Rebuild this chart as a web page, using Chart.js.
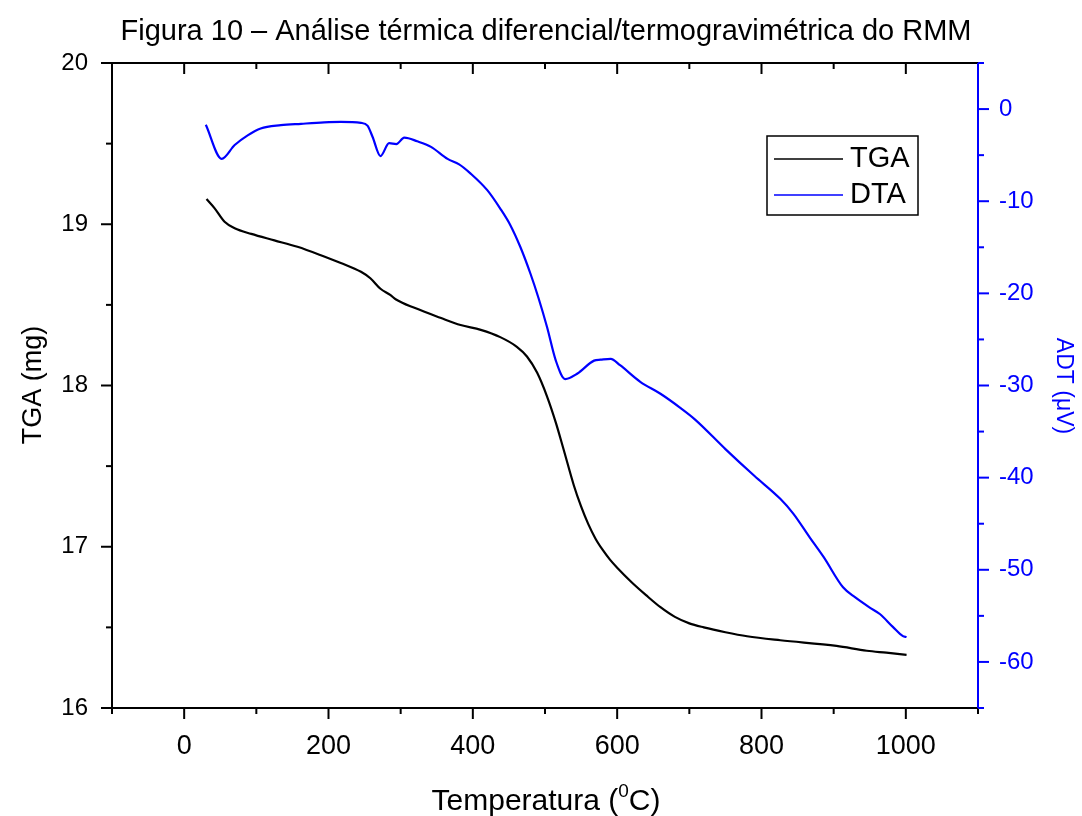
<!DOCTYPE html>
<html>
<head>
<meta charset="utf-8">
<script src="https://cdn.jsdelivr.net/npm/chart.js@4.4.1/dist/chart.umd.min.js"></script>
<style>
  html, body { margin: 0; padding: 0; background: #fff; }
  #wrap { width: 1082px; height: 816px; }
</style>
</head>
<body>
<div id="wrap"><canvas id="chart" width="1082" height="816"></canvas></div>
<script>
// ── Dados ──

const tempTGA = [31, 42, 56, 70, 93, 125, 157, 194, 217, 245, 258, 272, 286, 293, 320, 355, 383, 411, 438, 461, 475, 489, 503, 515, 526, 540, 550, 560, 570, 580, 590, 600, 620, 640, 660, 680, 700, 720, 750, 780, 826, 904, 946, 973, 1001];
const massTGA = [19.156, 19.1, 19.015, 18.975, 18.94, 18.9, 18.86, 18.8, 18.76, 18.705, 18.665, 18.6, 18.56, 18.535, 18.48, 18.42, 18.375, 18.345, 18.3, 18.24, 18.18, 18.08, 17.93, 17.77, 17.6, 17.38, 17.25, 17.14, 17.05, 16.98, 16.92, 16.87, 16.78, 16.7, 16.625, 16.565, 16.525, 16.5, 16.47, 16.445, 16.42, 16.385, 16.355, 16.343, 16.33];

const tempDTA = [30, 52, 70, 88, 106, 134, 162, 194, 217, 245, 254, 261, 272, 284, 294, 305, 323, 342, 365, 381, 397, 420, 438, 452, 466, 480, 491, 503, 515, 528, 545, 568, 577, 591, 604, 632, 660, 687, 708, 750, 790, 826, 844, 867, 886, 913, 930, 950, 964, 982, 996, 1001];
const signalDTA = [-1.7, -5.4, -3.9, -2.85, -2.1, -1.75, -1.6, -1.45, -1.4, -1.5, -1.8, -3.0, -5.1, -3.7, -3.8, -3.1, -3.5, -4.1, -5.4, -6.0, -7.0, -8.8, -10.8, -12.6, -15.0, -17.9, -20.5, -23.7, -27.3, -29.3, -28.7, -27.3, -27.2, -27.1, -27.8, -29.6, -30.9, -32.4, -33.7, -36.9, -39.8, -42.3, -43.9, -46.5, -48.6, -51.9, -53.0, -54.1, -54.8, -56.2, -57.2, -57.3];

const xTicks = [0, 200, 400, 600, 800, 1000];
const xMinor = [-100, 100, 300, 500, 700, 900, 1100];
const tgaTicks = [16, 17, 18, 19, 20];
const tgaMinor = [16.5, 17.5, 18.5, 19.5];
const dtaTicks = [0, -10, -20, -30, -40, -50, -60];
const dtaMinor = [5, -5, -15, -25, -35, -45, -55, -65];

const BLUE = "#0000ff";
const FONT = "'Liberation Sans', Arial, sans-serif";

// ── Apufunktiot ──

function toPoints(xs, ys) {
  return xs.map((x, i) => ({ x, y: ys[i] }));
}

function fixTicks(list) {
  return (scale) => {
    scale.ticks = list.map((v) => ({ value: v }));
  };
}

function plainLabel(v) {
  return String(v);
}

function drawTicks(ctx, scale, values, len, side) {
  const area = scale.chart.chartArea;
  values.forEach((v) => {
    const p = scale.getPixelForValue(v);
    ctx.beginPath();
    if (side === "bottom") { ctx.moveTo(p, area.bottom); ctx.lineTo(p, area.bottom + len); }
    if (side === "top") { ctx.moveTo(p, area.top); ctx.lineTo(p, area.top + len); }
    if (side === "left") { ctx.moveTo(area.left, p); ctx.lineTo(area.left - len, p); }
    if (side === "right") { ctx.moveTo(area.right, p); ctx.lineTo(area.right + len, p); }
    ctx.stroke();
  });
}

const originAxes = {
  id: "originAxes",
  afterDraw(chart) {
    const { ctx, chartArea: a, scales } = chart;
    const x = scales.x, yl = scales.yTGA, yr = scales.yDTA;
    ctx.save();
    ctx.lineWidth = 2;
    ctx.lineCap = "square";

    // moldura preta
    ctx.strokeStyle = "#000";
    ctx.beginPath();
    ctx.moveTo(a.right, a.top);
    ctx.lineTo(a.left, a.top);
    ctx.lineTo(a.left, a.bottom);
    ctx.lineTo(a.right, a.bottom);
    ctx.stroke();
    ctx.lineCap = "butt";
    drawTicks(ctx, x, xTicks, 11, "bottom");
    drawTicks(ctx, x, xMinor, 6, "bottom");
    drawTicks(ctx, x, xTicks, 11, "top");
    drawTicks(ctx, x, xMinor, 6, "top");
    drawTicks(ctx, yl, tgaTicks, 11, "left");
    drawTicks(ctx, yl, tgaMinor, 6, "left");

    // eixo direito azul
    ctx.strokeStyle = BLUE;
    ctx.beginPath();
    ctx.moveTo(a.right, a.top);
    ctx.lineTo(a.right, a.bottom);
    ctx.stroke();
    drawTicks(ctx, yr, dtaTicks, 11, "right");
    drawTicks(ctx, yr, dtaMinor, 6, "right");

    // títulos
    ctx.fillStyle = "#000";
    ctx.textAlign = "center";
    ctx.textBaseline = "middle";
    ctx.font = "29px " + FONT;
    ctx.fillText("Figura 10 – Análise térmica diferencial/termogravimétrica do RMM", 546, 32);

    ctx.font = "27px " + FONT;
    ctx.save();
    ctx.translate(34, 385);
    ctx.rotate(-Math.PI / 2);
    ctx.fillText("TGA (mg)", 0, 0);
    ctx.restore();

    ctx.save();
    ctx.font = "23px " + FONT;
    ctx.fillStyle = BLUE;
    ctx.translate(1063, 386);
    ctx.rotate(Math.PI / 2);
    ctx.fillText("ADT (μV)", 0, 0);
    ctx.restore();

    // Temperatura (⁰C) com expoente
    const pre = "Temperatura (", sup = "0", post = "C)";
    ctx.font = "30px " + FONT;
    const w1 = ctx.measureText(pre).width;
    const w3 = ctx.measureText(post).width;
    ctx.font = "19px " + FONT;
    const w2 = ctx.measureText(sup).width;
    let tx = 546 - (w1 + w2 + w3) / 2;
    const ty = 810;
    ctx.textAlign = "left";
    ctx.textBaseline = "alphabetic";
    ctx.font = "30px " + FONT;
    ctx.fillText(pre, tx, ty);
    tx += w1;
    ctx.font = "19px " + FONT;
    ctx.fillText(sup, tx, ty - 13);
    tx += w2;
    ctx.font = "30px " + FONT;
    ctx.fillText(post, tx, ty);

    // legenda
    ctx.strokeStyle = "#000";
    ctx.lineWidth = 1.5;
    ctx.strokeRect(767, 136, 151, 79);
    ctx.font = "29px " + FONT;
    ctx.textBaseline = "middle";
    chart.data.datasets.forEach((ds, i) => {
      const ly = 159 + i * 36;
      ctx.strokeStyle = ds.borderColor;
      ctx.lineWidth = 1.5;
      ctx.beginPath();
      ctx.moveTo(774, ly);
      ctx.lineTo(843, ly);
      ctx.stroke();
      ctx.fillStyle = "#000";
      ctx.fillText(ds.label, 850, ly);
    });
    ctx.restore();
  },
};

// ── Kaavio ──

new Chart(document.getElementById("chart"), {
  type: "line",
  data: {
    datasets: [
      {
        label: "TGA",
        data: toPoints(tempTGA, massTGA),
        yAxisID: "yTGA",
        borderColor: "#000",
        borderWidth: 2.2,
        pointRadius: 0,
        cubicInterpolationMode: "monotone",
        fill: false,
      },
      {
        label: "DTA",
        data: toPoints(tempDTA, signalDTA),
        yAxisID: "yDTA",
        borderColor: BLUE,
        borderWidth: 2.2,
        pointRadius: 0,
        cubicInterpolationMode: "monotone",
        fill: false,
      },
    ],
  },
  options: {
    responsive: false,
    animation: false,
    events: [],
    layout: { padding: { top: 63, left: 0, right: 0, bottom: 0 } },
    plugins: { legend: { display: false }, tooltip: { enabled: false } },
    scales: {
      x: {
        type: "linear",
        min: -100,
        max: 1100,
        afterBuildTicks: fixTicks(xTicks),
        afterFit: (s) => { s.height = 108; },
        grid: { display: false },
        border: { display: false },
        ticks: { color: "#000", font: { family: FONT, size: 27 }, padding: 14, maxRotation: 0, callback: plainLabel },
      },
      yTGA: {
        type: "linear",
        position: "left",
        min: 16,
        max: 20,
        afterBuildTicks: fixTicks(tgaTicks),
        afterFit: (s) => { s.width = 112; },
        grid: { display: false },
        border: { display: false },
        ticks: { color: "#000", font: { family: FONT, size: 24 }, padding: 16, callback: plainLabel },
      },
      yDTA: {
        type: "linear",
        position: "right",
        min: -65,
        max: 5,
        afterBuildTicks: fixTicks(dtaTicks),
        afterFit: (s) => { s.width = 104; },
        grid: { display: false },
        border: { display: false },
        ticks: { color: BLUE, font: { family: FONT, size: 24 }, padding: 13, callback: plainLabel },
      },
    },
  },
  plugins: [originAxes],
});
</script>
</body>
</html>
